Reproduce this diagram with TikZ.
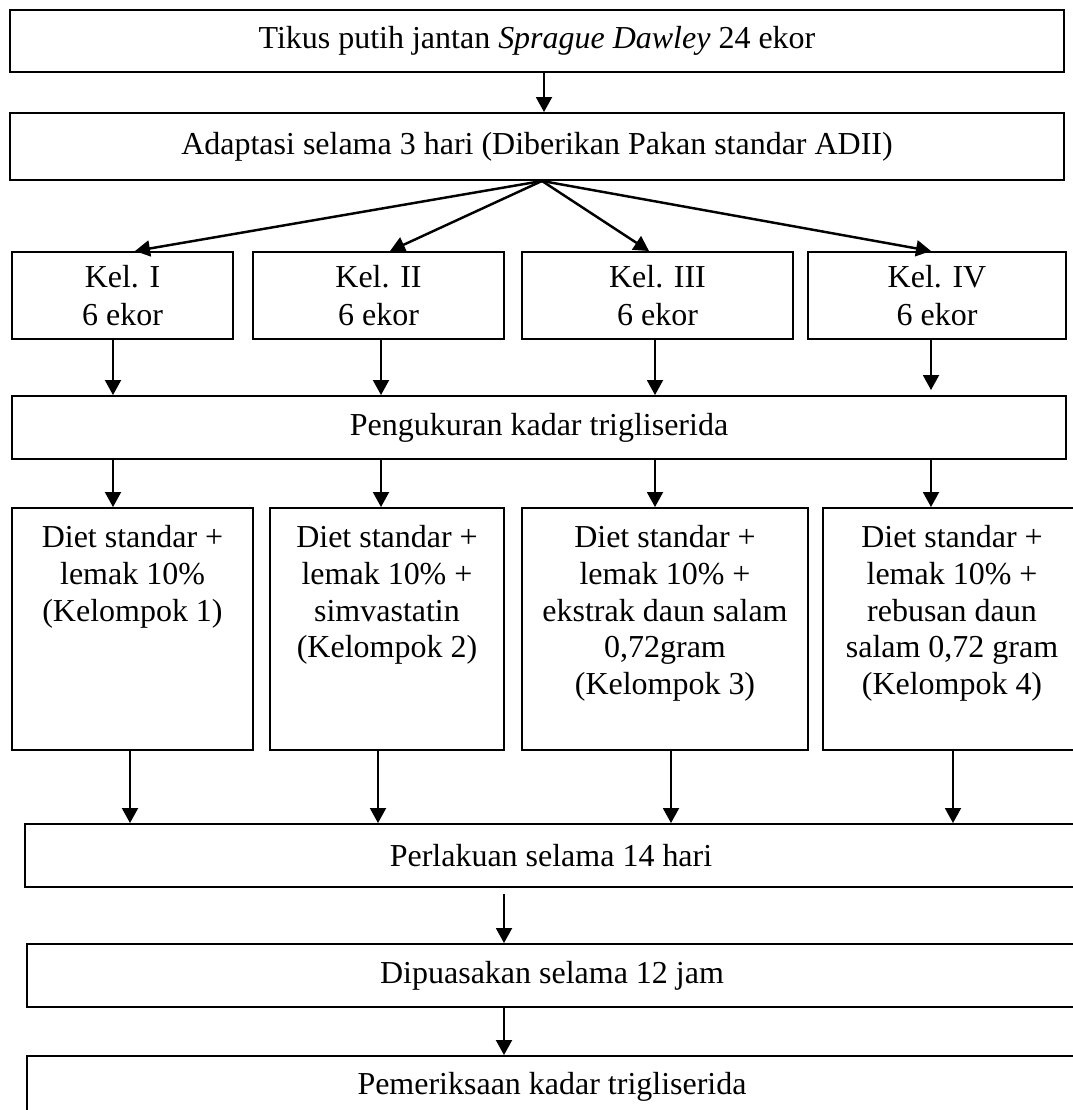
\documentclass[tikz,border=0pt]{standalone}
\usepackage{fontspec}
\setmainfont{Liberation Serif}
\usepackage{tikz}
\usetikzlibrary{arrows.meta}
\tikzstyle{box}=[draw, rectangle, line width=1.1pt, inner sep=0pt, align=center]
\tikzstyle{arrow}=[line width=1.1pt, -{Triangle[length=0.3cm,width=0.32cm]}]
\tikzstyle{fan}=[arrow, line width=1.4pt]

\begin{document}
\begin{tikzpicture}[font=\fontsize{18.2}{21}\selectfont]
\useasboundingbox (0,0) rectangle (21.46,-22.2);
\clip (0,0) rectangle (21.46,-22.2);
% top rows
\node[box, minimum width=21.08cm, minimum height=1.24cm](tikus) at (10.74,-0.82){Tikus putih jantan \textit{Sprague Dawley} 24 ekor};
\node[box, minimum width=21.08cm, minimum height=1.34cm](adapt) at (10.74,-2.93){Adaptasi selama 3 hari (Diberikan Pakan standar ADII)};
\draw[arrow] ([xshift=0.14cm]tikus.south) -- ([xshift=0.14cm]tikus.south |- adapt.north);
% groups
\node[box, minimum width=4.42cm, minimum height=1.74cm](kel1) at (2.45,-5.91){Kel. I\\[1pt]6 ekor};
\node[box, minimum width=5.02cm, minimum height=1.74cm](kel2) at (7.57,-5.91){Kel. II\\[1pt]6 ekor};
\node[box, minimum width=5.42cm, minimum height=1.74cm](kel3) at (13.15,-5.91){Kel. III\\[1pt]6 ekor};
\node[box, minimum width=5.16cm, minimum height=1.74cm](kel4) at (18.74,-5.91){Kel. IV\\[1pt]6 ekor};
\draw[fan] ([xshift=0.1cm]adapt.south) -- ([xshift=0.25cm]kel1.north);
\draw[fan] ([xshift=0.1cm]adapt.south) -- ([xshift=0.23cm]kel2.north);
\draw[fan] ([xshift=0.1cm]adapt.south) -- ([xshift=-0.17cm]kel3.north);
\draw[fan] ([xshift=0.1cm]adapt.south) -- ([xshift=-0.12cm]kel4.north);
\node[box, minimum width=21.08cm, minimum height=1.26cm](ukur) at (10.78,-8.55){Pengukuran kadar trigliserida};
\draw[arrow] ([xshift=-0.19cm]kel1.south) -- ([xshift=-0.19cm]kel1.south |- ukur.north);
\draw[arrow] ([xshift=0.05cm]kel2.south) -- ([xshift=0.05cm]kel2.south |- ukur.north);
\draw[arrow] ([xshift=-0.05cm]kel3.south) -- ([xshift=-0.05cm]kel3.south |- ukur.north);
\draw[arrow] ([xshift=-0.12cm]kel4.south) -- ([xshift=-0.12cm,yshift=0.1cm]kel4.south |- ukur.north);
% treatments
\node[box](diet1) at (2.65,-12.58){\parbox[c][4.84cm][t]{4.82cm}{\centering\vspace{0.34cm}Diet standar +\\lemak 10\%\\(Kelompok 1)}};
\node[box](diet2) at (7.74,-12.58){\parbox[c][4.84cm][t]{4.68cm}{\centering\vspace{0.34cm}Diet standar +\\lemak 10\% +\\simvastatin\\(Kelompok 2)}};
\node[box](diet3) at (13.30,-12.58){\parbox[c][4.84cm][t]{5.72cm}{\centering\vspace{0.34cm}Diet standar +\\lemak 10\% +\\ekstrak daun salam\\0,72gram\\(Kelompok 3)}};
\node[box](diet4) at (19.04,-12.58){\parbox[c][4.84cm][t]{5.16cm}{\centering\vspace{0.34cm}Diet standar +\\lemak 10\% +\\rebusan daun\\salam 0,72 gram\\(Kelompok 4)}};
\draw[arrow] ([xshift=-0.19cm]kel1.south |- ukur.south) -- ([xshift=-0.19cm]kel1.south |- diet1.north);
\draw[arrow] ([xshift=0.05cm]kel2.south |- ukur.south) -- ([xshift=0.05cm]kel2.south |- diet2.north);
\draw[arrow] ([xshift=-0.05cm]kel3.south |- ukur.south) -- ([xshift=-0.05cm]kel3.south |- diet3.north);
\draw[arrow] ([xshift=-0.12cm]kel4.south |- ukur.south) -- ([xshift=-0.12cm]kel4.south |- diet4.north);
% lower rows
\node[box, minimum width=21.04cm, minimum height=1.26cm](perlakuan) at (11.02,-17.11){Perlakuan selama 14 hari};
\draw[arrow] ([xshift=-0.05cm]diet1.south) -- ([xshift=-0.05cm]diet1.south |- perlakuan.north);
\draw[arrow] ([xshift=-0.18cm]diet2.south) -- ([xshift=-0.18cm]diet2.south |- perlakuan.north);
\draw[arrow] ([xshift=0.12cm]diet3.south) -- ([xshift=0.12cm]diet3.south |- perlakuan.north);
\draw[arrow] ([xshift=0.02cm]diet4.south) -- ([xshift=0.02cm]diet4.south |- perlakuan.north);
\node[box, minimum width=21.0cm, minimum height=1.26cm](puasa) at (11.04,-19.51){Dipuasakan selama 12 jam};
\node[box, minimum width=21.0cm, minimum height=1.24cm](periksa) at (11.04,-21.74){Pemeriksaan kadar trigliserida};
\draw[arrow] ([xshift=-0.94cm,yshift=-0.12cm]perlakuan.south) -- ([xshift=-0.94cm]perlakuan.south |- puasa.north);
\draw[arrow] ([xshift=-0.96cm]puasa.south) -- ([xshift=-0.96cm]puasa.south |- periksa.north);
\end{tikzpicture}
\end{document}
